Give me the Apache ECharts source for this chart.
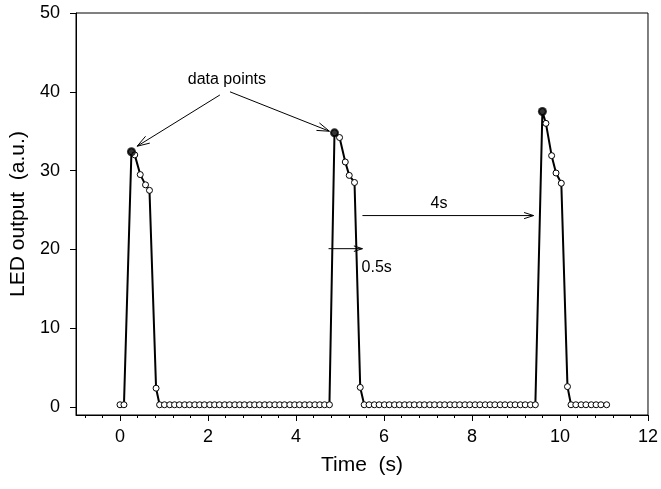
<!DOCTYPE html>
<html>
<head>
<meta charset="utf-8">
<script src="https://cdn.jsdelivr.net/npm/echarts@6.0.0/dist/echarts.min.js"></script>
<style>
  html, body { margin: 0; padding: 0; background: #fff; }
  #chart { width: 661px; height: 489px; }
</style>
</head>
<body>
<div id="chart"></div>
<script>
// sample times (s)
const timeS = [
  0.00, 0.09,
  0.26, 0.335, 0.46, 0.58, 0.67, 0.82, 0.90,
  1.01, 1.13, 1.24, 1.35, 1.47, 1.58, 1.70, 1.81, 1.92, 2.04, 2.15, 2.26,
  2.38, 2.49, 2.61, 2.72, 2.83, 2.95, 3.06, 3.17, 3.29, 3.40, 3.52, 3.63,
  3.74, 3.86, 3.97, 4.08, 4.20, 4.31, 4.43, 4.54, 4.65, 4.76,
  4.875, 4.99, 5.12, 5.21, 5.33, 5.46, 5.55,
  5.66, 5.78, 5.89, 6.01, 6.12, 6.24, 6.35, 6.47, 6.58, 6.69, 6.81, 6.92,
  7.04, 7.15, 7.27, 7.38, 7.50, 7.61, 7.72, 7.84, 7.95, 8.07, 8.18, 8.30,
  8.41, 8.52, 8.64, 8.75, 8.87, 8.98, 9.10, 9.21, 9.33, 9.44,
  9.60, 9.68, 9.81, 9.91, 10.03, 10.17, 10.25,
  10.36, 10.48, 10.59, 10.71, 10.82, 10.93, 11.06
];
// LED output (a.u.)
const ledOutput = [
  0.3, 0.3,
  32.4, 32.0, 29.5, 28.2, 27.5, 2.4, 0.3,
  0.3, 0.3, 0.3, 0.3, 0.3, 0.3, 0.3, 0.3, 0.3, 0.3, 0.3, 0.3,
  0.3, 0.3, 0.3, 0.3, 0.3, 0.3, 0.3, 0.3, 0.3, 0.3, 0.3, 0.3,
  0.3, 0.3, 0.3, 0.3, 0.3, 0.3, 0.3, 0.3, 0.3, 0.3,
  34.8, 34.2, 31.1, 29.4, 28.5, 2.5, 0.3,
  0.3, 0.3, 0.3, 0.3, 0.3, 0.3, 0.3, 0.3, 0.3, 0.3, 0.3, 0.3,
  0.3, 0.3, 0.3, 0.3, 0.3, 0.3, 0.3, 0.3, 0.3, 0.3, 0.3, 0.3,
  0.3, 0.3, 0.3, 0.3, 0.3, 0.3, 0.3, 0.3, 0.3, 0.3,
  37.5, 36.0, 31.9, 29.7, 28.4, 2.6, 0.3,
  0.3, 0.3, 0.3, 0.3, 0.3, 0.3, 0.3
];
// the highlighted "data points" (pulse maxima)
const peakTime = [0.26, 4.875, 9.60];
const peakOutput = [32.4, 34.8, 37.5];

const yTicks = [0, 10, 20, 30, 40, 50];
const xMajorTicks = [0, 2, 4, 6, 8, 10, 12];
const xMinorTicks = [-0.8, -0.4, 0, 0.4, 0.8, 1.2, 1.6, 2, 2.4, 2.8, 3.2, 3.6, 4,
  4.4, 4.8, 5.2, 5.6, 6, 6.4, 6.8, 7.2, 7.6, 8, 8.4, 8.8, 9.2, 9.6, 10,
  10.4, 10.8, 11.2, 11.6, 12];

// annotations, in data coordinates
const arrows = [
  { from: [2.27, 39.6], to: [0.39, 33.1], head: 13 },
  { from: [2.5, 40.0], to: [4.76, 35.0], head: 13 },
  { from: [5.51, 24.3], to: [9.40, 24.3], head: 10 },
  { from: [4.74, 20.1], to: [5.51, 20.1], head: 9 }
];
const notes = [
  { text: 'data points', at: [2.43, 41.5], align: 'center' },
  { text: '4s', at: [7.25, 25.8], align: 'center' },
  { text: '0.5s', at: [5.49, 17.7], align: 'left' }
];

const font = "'Liberation Sans', Arial, sans-serif";
const chart = echarts.init(document.getElementById('chart'));

chart.setOption({
  animation: false,
  grid: {
    left: 76, right: 10, top: 13, bottom: 74,
    show: true, borderColor: '#000', borderWidth: 1
  },
  xAxis: [
    {
      type: 'value', min: -1, max: 12,
      name: 'Time  (s)', nameLocation: 'middle', nameGap: 40,
      nameTextStyle: { fontSize: 21, fontFamily: font, color: '#000' },
      axisLine: { show: true, onZero: false, lineStyle: { color: '#000', width: 1 } },
      axisTick: { show: true, length: 3, customValues: xMinorTicks, lineStyle: { color: '#000' } },
      axisLabel: { show: false },
      splitLine: { show: false }
    },
    {
      type: 'value', min: -1, max: 12, position: 'bottom',
      axisLine: { show: false, onZero: false },
      axisTick: { show: true, length: 6, customValues: xMajorTicks, lineStyle: { color: '#000' } },
      axisLabel: {
        customValues: xMajorTicks, margin: 13,
        fontSize: 18, fontFamily: font, color: '#000'
      },
      splitLine: { show: false }
    }
  ],
  yAxis: {
    type: 'value', min: -1, max: 50,
    name: 'LED output  (a.u.)', nameLocation: 'middle', nameGap: 46,
    nameTextStyle: { fontSize: 21, fontFamily: font, color: '#000' },
    axisLine: { show: true, onZero: false, lineStyle: { color: '#000', width: 1 } },
    axisTick: { show: true, length: 6, customValues: yTicks, lineStyle: { color: '#000' } },
    axisLabel: {
      customValues: yTicks, margin: 16,
      fontSize: 18, fontFamily: font, color: '#000'
    },
    splitLine: { show: false }
  },
  series: [
    {
      type: 'line',
      xAxisIndex: 0,
      data: timeS.map((t, i) => [t, ledOutput[i]]),
      showAllSymbol: true,
      symbol: 'circle',
      symbolSize: 6,
      lineStyle: { color: '#000', width: 2 },
      itemStyle: { color: '#fff', borderColor: '#000', borderWidth: 1 },
      z: 2
    },
    {
      type: 'scatter',
      xAxisIndex: 0,
      data: peakTime.map((t, i) => [t, peakOutput[i]]),
      symbol: 'circle',
      symbolSize: 9,
      itemStyle: { color: '#000' },
      z: 3
    }
  ]
});

// draw the annotation arrows and labels from their data positions
function arrowHead(p0, p1, len) {
  const dx = p0[0] - p1[0], dy = p0[1] - p1[1];
  const d = Math.sqrt(dx * dx + dy * dy);
  const ux = dx / d, uy = dy / d;
  const a = 18 * Math.PI / 180;
  const rot = s => [
    p1[0] + len * (ux * Math.cos(s * a) - uy * Math.sin(s * a)),
    p1[1] + len * (ux * Math.sin(s * a) + uy * Math.cos(s * a))
  ];
  return [rot(1), p1, rot(-1)];
}

const graphics = [];
arrows.forEach(ar => {
  const p0 = chart.convertToPixel({ gridIndex: 0 }, ar.from);
  const p1 = chart.convertToPixel({ gridIndex: 0 }, ar.to);
  graphics.push({
    type: 'line',
    shape: { x1: p0[0], y1: p0[1], x2: p1[0], y2: p1[1] },
    style: { stroke: '#000', lineWidth: 1 },
    z: 10
  });
  graphics.push({
    type: 'polyline',
    shape: { points: arrowHead(p0, p1, ar.head) },
    style: { stroke: '#000', lineWidth: 1, fill: null },
    z: 10
  });
});
notes.forEach(n => {
  const p = chart.convertToPixel({ gridIndex: 0 }, n.at);
  graphics.push({
    type: 'text',
    x: p[0], y: p[1],
    style: {
      text: n.text, fill: '#000', fontSize: 16, fontFamily: font,
      align: n.align, verticalAlign: 'middle'
    },
    z: 10
  });
});
chart.setOption({ graphic: graphics });
</script>
</body>
</html>
